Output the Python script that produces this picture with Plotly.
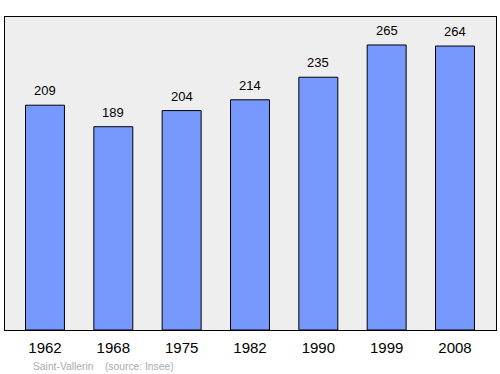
import plotly.graph_objects as go

years = ["1962", "1968", "1975", "1982", "1990", "1999", "2008"]
population = [209, 189, 204, 214, 235, 265, 264]
caption = "Saint-Vallerin    (source: Insee)"

fig = go.Figure()
fig.add_trace(go.Bar(
    x=list(range(len(years))), y=population,
    width=0.57,
    marker=dict(color="#7799ff", line=dict(color="#000000", width=1)),
))
annots = [dict(x=i, y=v, text=str(v), xref="x", yref="y", yanchor="bottom",
               yshift=5, showarrow=False,
               font=dict(family="Liberation Sans, Arial", size=13, color="#000000"))
          for i, v in enumerate(population)]
annots.append(dict(text=caption, xref="paper", yref="paper",
                   x=26/491, y=-0.117, xanchor="left", yanchor="middle",
                   showarrow=False,
                   font=dict(family="Liberation Sans, Arial", size=10.3, color="#aaaaaa")))
fig.update_layout(
    width=500, height=374,
    margin=dict(l=5, r=4, t=17, b=44),
    paper_bgcolor="#ffffff", plot_bgcolor="#eeeeee",
    showlegend=False,
    xaxis=dict(range=[-0.585, 6.6], tickmode="array",
               tickvals=list(range(len(years))), ticktext=years,
               showgrid=False, zeroline=False, ticks="",
               ticklabelstandoff=4,
               tickfont=dict(family="Liberation Sans, Arial", size=15, color="#000000"),
               showline=True, linecolor="#000000", linewidth=1, mirror=True),
    yaxis=dict(range=[0, 291], showticklabels=False, showgrid=False,
               zeroline=False, ticks="",
               showline=True, linecolor="#000000", linewidth=1, mirror=True),
    annotations=annots,
)
fig.write_html("out.html")
